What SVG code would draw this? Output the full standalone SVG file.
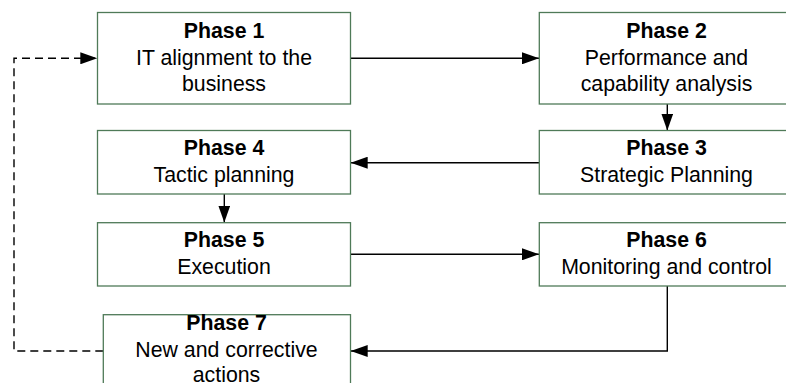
<svg xmlns="http://www.w3.org/2000/svg" width="786" height="383" viewBox="0 0 786 383">
<defs>
<style>
.box{fill:#fff;stroke:#4f7a58;stroke-width:1.3}
.t{font-family:"Liberation Sans",Arial,sans-serif;font-size:21.3px;fill:#000;text-anchor:middle}
.b{font-weight:bold}
.c{fill:none;stroke:#000;stroke-width:1.4}
.d{stroke-dasharray:8,5}
</style>
<marker id="ah" markerWidth="18" markerHeight="12" refX="17" refY="6" orient="auto" markerUnits="userSpaceOnUse">
<path d="M0,0 L17,6 L0,12 Z" fill="#000"/>
</marker>
</defs>
<rect width="786" height="383" fill="#fff"/>
<g id="connectors">
<path class="c" d="M350.5,58.3 H539" marker-end="url(#ah)"/>
<path class="c" d="M667.3,104 V130.5" marker-end="url(#ah)"/>
<path class="c" d="M539.3,162.7 H350.7" marker-end="url(#ah)"/>
<path class="c" d="M224.3,194 V222.5" marker-end="url(#ah)"/>
<path class="c" d="M350.5,254.3 H539" marker-end="url(#ah)"/>
<path class="c" d="M667.3,286 V351 H350.7" marker-end="url(#ah)"/>
<path class="c d" d="M103.3,351 H14 V58.3 H97.3" marker-end="url(#ah)"/>
</g>
<g id="phase1">
<rect class="box" x="97.5" y="12.5" width="253" height="91.5"/>
<text class="t b" x="224" y="37.7">Phase 1</text>
<text class="t" x="224" y="65">IT alignment to the</text>
<text class="t" x="224" y="91">business</text>
</g>
<g id="phase2">
<rect class="box" x="539.3" y="12.5" width="256" height="91.5"/>
<text class="t b" x="666.5" y="37.7">Phase 2</text>
<text class="t" x="666.5" y="65">Performance and</text>
<text class="t" x="666.5" y="91">capability analysis</text>
</g>
<g id="phase3">
<rect class="box" x="539.3" y="130.5" width="256" height="63.5"/>
<text class="t b" x="666.5" y="155.3">Phase 3</text>
<text class="t" x="666.5" y="181.7">Strategic Planning</text>
</g>
<g id="phase4">
<rect class="box" x="97.5" y="130.5" width="253" height="63.5"/>
<text class="t b" x="224" y="155.3">Phase 4</text>
<text class="t" x="224" y="181.7">Tactic planning</text>
</g>
<g id="phase5">
<rect class="box" x="97.5" y="222.7" width="253" height="63.3"/>
<text class="t b" x="224" y="247.3">Phase 5</text>
<text class="t" x="224" y="274">Execution</text>
</g>
<g id="phase6">
<rect class="box" x="539.3" y="222.7" width="256" height="63.3"/>
<text class="t b" x="666.5" y="247.3">Phase 6</text>
<text class="t" x="666.5" y="274">Monitoring and control</text>
</g>
<g id="phase7">
<rect class="box" x="103.3" y="314.7" width="247.2" height="80"/>
<text class="t b" x="226.5" y="330">Phase 7</text>
<text class="t" x="226.5" y="357.3">New and corrective</text>
<text class="t" x="226.5" y="382">actions</text>
</g>
</svg>
